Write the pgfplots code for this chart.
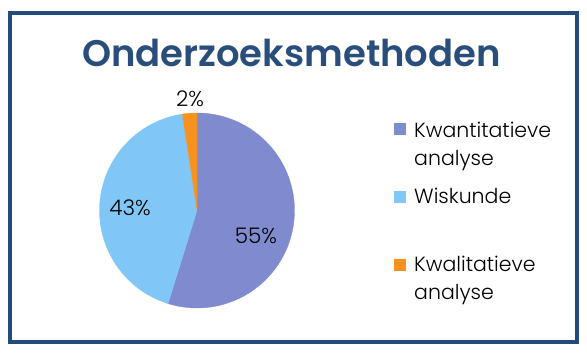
\documentclass[border=0pt]{standalone}
\usepackage{pgfplots}
\pgfplotsset{compat=1.18}
\usepackage{pgfplotstable}
\usepackage{fontspec}
\setmainfont{Poppins}[UprightFont=* Light, BoldFont=* SemiBold]
\definecolor{cA}{HTML}{7F8ACF}
\definecolor{cB}{HTML}{80C7F7}
\definecolor{cC}{HTML}{F7921E}
\definecolor{titlec}{HTML}{2A4E7B}
\definecolor{framec}{HTML}{234B7E}
\pgfplotstableread{
label value
Kwantitatieve 54.8
Wiskunde 42.8
Kwalitatieve 2.4
}\piedata
\begin{document}%
\begin{tikzpicture}
\pgfplotstablegetelem{0}{value}\of\piedata \let\va\pgfplotsretval
\pgfplotstablegetelem{1}{value}\of\piedata \let\vb\pgfplotsretval
\pgfplotstablegetelem{2}{value}\of\piedata \let\vc\pgfplotsretval
\pgfmathsetmacro{\aStart}{90}
\pgfmathsetmacro{\aA}{90-3.6*\va}
\pgfmathsetmacro{\aB}{\aA-3.6*\vb}
\pgfmathsetmacro{\aC}{\aB-3.6*\vc}
\useasboundingbox[fill=white] (0,0) rectangle (587bp,354bp);
\draw[line width=4bp, framec] (10bp,12bp) rectangle (577bp,341bp);
\node[anchor=base, text=titlec, font=\bfseries\fontsize{37bp}{43bp}\selectfont] at (291.5bp,287.3bp) {Onderzoeksmethoden};
\begin{axis}[
  at={(197bp,143.5bp)}, anchor=center,
  scale only axis, width=195bp, height=195bp,
  xmin=-1, xmax=1, ymin=-1, ymax=1,
  hide axis, clip=false,
]
\addplot[fill=cA, draw=cA, line width=0.3pt, domain=\aA:\aStart, samples=120, variable=\t] ({cos(t)},{sin(t)}) -- (axis cs:0,0) -- cycle;
\addplot[fill=cB, draw=cB, line width=0.3pt, domain=\aB:\aA, samples=120, variable=\t] ({cos(t)},{sin(t)}) -- (axis cs:0,0) -- cycle;
\addplot[fill=cC, draw=cC, line width=0.3pt, domain=\aC:\aB, samples=20, variable=\t] ({cos(t)},{sin(t)}) -- (axis cs:0,0) -- cycle;
\node[anchor=base, font=\fontsize{21.5bp}{25bp}\selectfont] at (axis cs:0.605,-0.336) {55\%};
\node[anchor=base, font=\fontsize{21.5bp}{25bp}\selectfont] at (axis cs:-0.687,-0.053) {43\%};
\node[anchor=base, font=\fontsize{21.5bp}{25bp}\selectfont] at (axis cs:-0.072,1.065) {2\%};
\end{axis}
\fill[cA] (394bp,219.3bp) rectangle (406bp,231.3bp);
\fill[cB] (394bp,151.3bp) rectangle (406bp,163.3bp);
\fill[cC] (394bp,82.7bp) rectangle (406bp,94.7bp);
\begin{scope}[every node/.style={anchor=base west, inner sep=0pt, font=\fontsize{20.5bp}{24bp}\selectfont}]
\node at (414bp,216.7bp) {Kwantitatieve};
\node at (414bp,188.3bp) {analyse};
\node at (414bp,150bp) {Wiskunde};
\node at (414bp,82.3bp) {Kwalitatieve};
\node at (414bp,54bp) {analyse};
\end{scope}
\end{tikzpicture}%
\end{document}
